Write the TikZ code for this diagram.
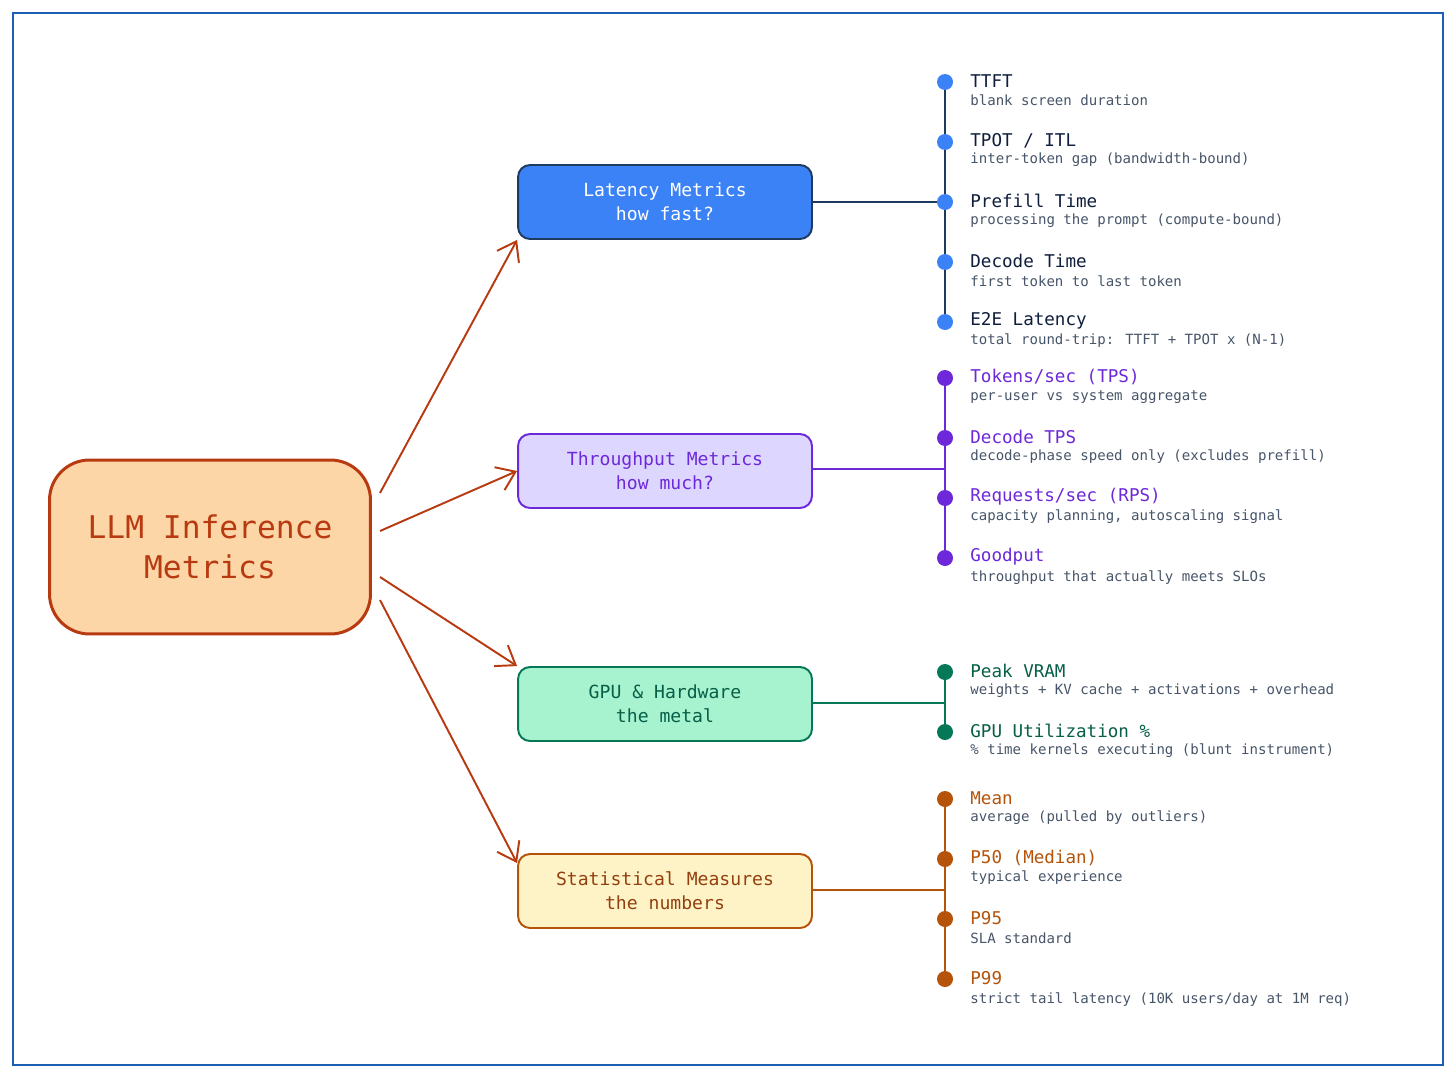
\documentclass[tikz,border=0pt]{standalone}
\usepackage{fontspec}
\setmainfont{DejaVu Sans Mono}
\usetikzlibrary{arrows.meta}
\definecolor{frameblue}{HTML}{1A5FB4}
\definecolor{rootfill}{HTML}{FDD6A8}
\definecolor{rootline}{HTML}{B83A10}
\definecolor{latfill}{HTML}{3B82F6}
\definecolor{latline}{HTML}{1E3A5F}
\definecolor{thrfill}{HTML}{DDD6FE}
\definecolor{thrline}{HTML}{6D28D9}
\definecolor{gpufill}{HTML}{A7F3D0}
\definecolor{gpuline}{HTML}{047857}
\definecolor{gputext}{HTML}{065F46}
\definecolor{statfill}{HTML}{FEF3C7}
\definecolor{statline}{HTML}{B45309}
\definecolor{stattext}{HTML}{92400E}
\definecolor{subgray}{HTML}{475569}
\definecolor{navy}{HTML}{0F1E3C}
\tikzset{
  catbox/.style={draw, rounded corners=0.24cm, line width=1.1pt, minimum width=5.88cm,
    minimum height=1.48cm, align=center, font=\fontsize{10.3}{13.5}\selectfont},
  dot/.style={circle, inner sep=0pt, minimum size=0.32cm},
  itemtitle/.style={anchor=west, inner sep=0pt, font=\fontsize{10}{12}\selectfont},
  itemsub/.style={anchor=west, inner sep=0pt, text=subgray, font=\fontsize{8}{10}\selectfont},
  branch/.style={draw=rootline, line width=1.1pt, -{Straight Barb[length=0.35cm,width=0.5cm]}},
}
\begin{document}
\begin{tikzpicture}[x=0.02cm,y=-0.02cm]
\path[fill=white] (0,0) rectangle (1456,1078);
\path[draw=frameblue,line width=1.2pt] (13,13) rectangle (1443,1065);

\node[draw=rootline, fill=rootfill, line width=1.7pt, rounded corners=0.8cm, minimum width=6.42cm,
  minimum height=3.48cm, align=center, text=rootline, font=\fontsize{17.8}{23}\selectfont] (root) at (210,547) {LLM Inference\\Metrics};

\node[catbox, draw=latline, fill=latfill, text=white] (lat) at (665,202) {Latency Metrics\\how fast?};
\node[catbox, draw=thrline, fill=thrfill, text=thrline] (thr) at (665,471) {Throughput Metrics\\how much?};
\node[catbox, draw=gpuline, fill=gpufill, text=gputext] (gpu) at (665,704) {GPU \& Hardware\\the metal};
\node[catbox, draw=statline, fill=statfill, text=stattext] (stat) at (665,891) {Statistical Measures\\the numbers};

\path[branch] (380,493) -- (lat.south west);
\path[branch] (380,531) -- (thr.west);
\path[branch] (380,577) -- (gpu.north west);
\path[branch] (380,600) -- ([yshift=-0.2cm]stat.north west);

% latency
\coordinate (l0) at (945,202);
\path[draw=latline,line width=1.1pt] (945,82) -- (945,322);
\path[draw=latline,line width=1.1pt] (lat.east) -- (l0);
\node[dot, fill=latfill] (l1) at (945,82) {};
\node[dot, fill=latfill] (l2) at (945,142) {};
\node[dot, fill=latfill] (l3) at (945,202) {};
\node[dot, fill=latfill] (l4) at (945,262) {};
\node[dot, fill=latfill] (l5) at (945,322) {};
\node[itemtitle, text=navy] at (970,81) {TTFT};
\node[itemsub] at (970,100) {blank screen duration};
\node[itemtitle, text=navy] at (970,141) {TPOT / ITL};
\node[itemsub] at (970,160) {inter-token gap (bandwidth-bound)};
\node[itemtitle, text=navy] at (970,201) {Prefill Time};
\node[itemsub] at (970,221) {processing the prompt (compute-bound)};
\node[itemtitle, text=navy] at (970,261) {Decode Time};
\node[itemsub] at (970,281) {first token to last token};
\node[itemtitle, text=navy] at (970,321) {E2E Latency};
\node[itemsub] at (970,341) {total round-trip: TTFT + TPOT x (N-1)};

% throughput
\coordinate (t0) at (945,469);
\path[draw=thrline,line width=1.1pt] (945,378) -- (945,558);
\path[draw=thrline,line width=1.1pt] (thr.east |- t0) -- (t0);
\node[dot, fill=thrline] (t1) at (945,378) {};
\node[dot, fill=thrline] (t2) at (945,438) {};
\node[dot, fill=thrline] (t3) at (945,498) {};
\node[dot, fill=thrline] (t4) at (945,558) {};
\node[itemtitle, text=thrline] at (970,377) {Tokens/sec (TPS)};
\node[itemsub] at (970,397) {per-user vs system aggregate};
\node[itemtitle, text=thrline] at (970,437) {Decode TPS};
\node[itemsub] at (970,457) {decode-phase speed only (excludes prefill)};
\node[itemtitle, text=thrline] at (970,497) {Requests/sec (RPS)};
\node[itemsub] at (970,517) {capacity planning, autoscaling signal};
\node[itemtitle, text=thrline] at (970,557) {Goodput};
\node[itemsub] at (970,578) {throughput that actually meets SLOs};

% gpu
\coordinate (g0) at (945,703);
\path[draw=gpuline,line width=1.1pt] (945,672) -- (945,732);
\path[draw=gpuline,line width=1.1pt] (gpu.east |- g0) -- (g0);
\node[dot, fill=gpuline] (g1) at (945,672) {};
\node[dot, fill=gpuline] (g2) at (945,732) {};
\node[itemtitle, text=gputext] at (970,671) {Peak VRAM};
\node[itemsub] at (970,691) {weights + KV cache + activations + overhead};
\node[itemtitle, text=gputext] at (970,731) {GPU Utilization \%};
\node[itemsub] at (970,751) {\% time kernels executing (blunt instrument)};

% statistics
\coordinate (s0) at (945,890);
\path[draw=statline,line width=1.1pt] (945,799) -- (945,979);
\path[draw=statline,line width=1.1pt] (stat.east |- s0) -- (s0);
\node[dot, fill=statline] (s1) at (945,799) {};
\node[dot, fill=statline] (s2) at (945,859) {};
\node[dot, fill=statline] (s3) at (945,919) {};
\node[dot, fill=statline] (s4) at (945,979) {};
\node[itemtitle, text=statline] at (970,798) {Mean};
\node[itemsub] at (970,818) {average (pulled by outliers)};
\node[itemtitle, text=statline] at (970,858) {P50 (Median)};
\node[itemsub] at (970,878) {typical experience};
\node[itemtitle, text=statline] at (970,918) {P95};
\node[itemsub] at (970,938) {SLA standard};
\node[itemtitle, text=statline] at (970,978) {P99};
\node[itemsub] at (970,1000) {strict tail latency (10K users/day at 1M req)};
\end{tikzpicture}
\end{document}
